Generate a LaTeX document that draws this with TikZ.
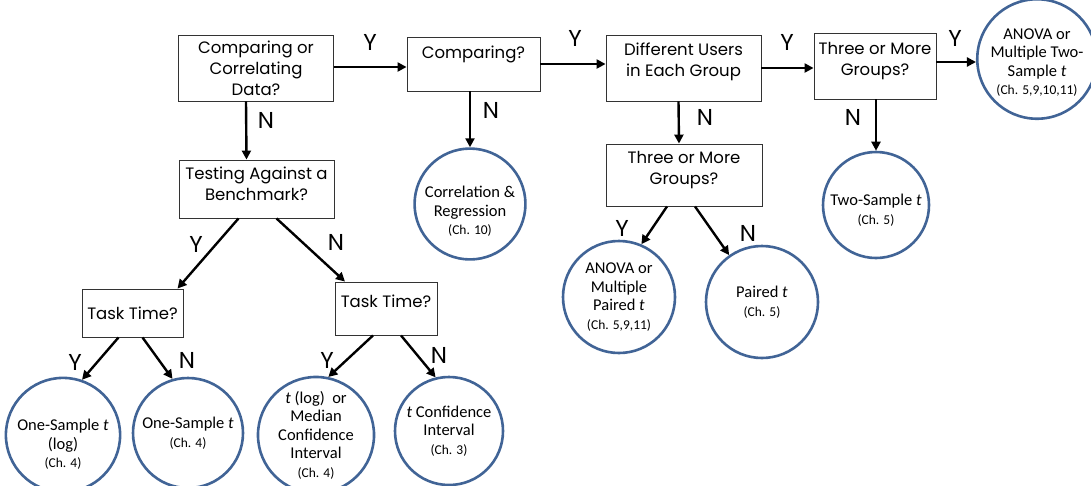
\documentclass[tikz,border=0pt]{standalone}
\usepackage{fontspec}
\setmainfont{Poppins}
\newfontfamily\calib{Carlito}
\usetikzlibrary{arrows.meta}
\definecolor{resblue}{RGB}{65,100,150}
\tikzset{
  box/.style={draw=black!80, line width=0.9pt, align=center,
    font=\fontsize{16.5}{21}\selectfont, inner sep=0pt},
  res/.style={circle, draw=resblue, line width=2.6pt, align=center,
    font=\calib\fontsize{16.5}{18.5}\selectfont, inner sep=0pt},
  arr/.style={line width=2.4pt, -{Triangle[length=9pt,width=9pt]}},
  yn/.style={font=\fontsize{23}{23}\selectfont, inner sep=0pt}
}
\newcommand{\chp}[1]{{\fontsize{13.5}{15}\selectfont #1}}
\begin{document}
\begin{tikzpicture}[x=1pt,y=-1pt]
\useasboundingbox (0,0) rectangle (1091,485);
% boxes
\node[box, minimum width=155pt, minimum height=66pt] (b1) at (256,68) {Comparing or\\Correlating\\Data?};
\node[box, minimum width=133pt, minimum height=54pt, text depth=24pt] (b2) at (473.5,64) {Comparing?};
\node[box, minimum width=155pt, minimum height=66pt, text depth=16pt] (b3) at (683.5,68) {Different Users\\in Each Group};
\node[box, minimum width=122pt, minimum height=66pt, text depth=15pt] (b4) at (875,66) {Three or More\\Groups?};
\node[box, minimum width=155pt, minimum height=58pt, text depth=10pt] (bench) at (256.5,189) {Testing Against a\\Benchmark?};
\node[box, minimum width=156pt, minimum height=62pt, text depth=14pt] (b5) at (684,175) {Three or More\\Groups?};
\node[box, minimum width=101pt, minimum height=48pt] (tl) at (132.5,313) {Task Time?};
\node[box, minimum width=102pt, minimum height=53pt, text depth=14pt] (tr) at (386,308.5) {Task Time?};
% results
\node[res, minimum size=106pt, text height=73.5pt] (anova1) at (1037,59) {ANOVA or\\Multiple Two-\\Sample \textit{t}\\\chp{(Ch. 5,9,10,11)}};
\node[res, minimum size=106pt, text height=63pt] (corr) at (470,204) {Correlation \&\\Regression\\\chp{(Ch. 10)}};
\node[res, minimum size=106pt, text height=40.5pt] (two) at (876,205) {Two-Sample \textit{t}\\\chp{(Ch. 5)}};
\node[res, minimum size=112pt] (anova2) at (619,297) {ANOVA or\\Multiple\\Paired \textit{t}\\\chp{(Ch. 5,9,11)}};
\node[res, minimum size=112pt] (paired) at (762,302) {Paired \textit{t}\\\chp{(Ch. 5)}};
\node[res, minimum size=110pt, text height=67pt] (onelog) at (63,435) {One-Sample \textit{t}\\(log)\\\chp{(Ch. 4)}};
\node[res, minimum size=110pt] (one) at (188,433) {One-Sample \textit{t}\\\chp{(Ch. 4)}};
\node[res, minimum size=108pt] (tlog) at (316,435) {\textit{t} (log)\ \ or\\Median\\Confidence\\Interval\\\chp{(Ch. 4)}};
\node[res, minimum size=108pt] (tconf) at (449,431) {\textit{t} Confidence\\Interval\\\chp{(Ch. 3)}};
% arrows
\coordinate (b1o) at ([yshift=1pt]b1.east);
\coordinate (b4o) at ([yshift=4pt]b4.east);
\draw[arr] (b1o) -- (b1o -| b2.west);
\draw[arr] (b2.east) -- (b2.east -| b3.west);
\draw[arr] (b3.east) -- (b3.east -| b4.west);
\draw[arr] (b4o) -- (anova1.west |- b4o);
\draw[arr] ([xshift=-10pt]b1.south) -- ([xshift=-10pt]bench.north);
\draw[arr] (corr.north |- b2.south) -- (corr.north);
\draw[arr] ([xshift=-5pt]b3.south) -- ([xshift=-5pt]b5.north);
\draw[arr] (two.north |- b4.south) -- (two.north);
\draw[arr] ([xshift=-18pt]bench.south) -- ([xshift=45pt]tl.north);
\draw[arr] ([xshift=20pt]bench.south) -- ([xshift=-41pt]tr.north);
\draw[arr] ([xshift=-14pt]tl.south) -- (onelog.71);
\draw[arr] ([xshift=10pt]tl.south) -- (one.106);
\draw[arr] ([xshift=-13pt]tr.south) -- (tlog.78);
\draw[arr] ([xshift=15pt]tr.south) -- (tconf.104);
\draw[arr] ([xshift=-17pt]b5.south) -- (anova2.67);
\draw[arr] ([xshift=11pt]b5.south) -- (paired.125);
% labels
\node[yn] (y1) at (370,42) {Y};
\node[yn] (y2) at (575,38) {Y};
\node[yn] (y3) at (787,42) {Y};
\node[yn] (y4) at (955,38) {Y};
\node[yn] (n1) at (266,120) {N};
\node[yn] (n2) at (491,110) {N};
\node[yn] (n3) at (705,117) {N};
\node[yn] (n4) at (853,117) {N};
\node[yn] (y5) at (196,244) {Y};
\node[yn] (n5) at (336,242) {N};
\node[yn] (y6) at (75,362) {Y};
\node[yn] (n6) at (187,360) {N};
\node[yn] (y7) at (327,360) {Y};
\node[yn] (n7) at (439,355) {N};
\node[yn] (y8) at (622,228) {Y};
\node[yn] (n8) at (748,233) {N};
\end{tikzpicture}
\end{document}
